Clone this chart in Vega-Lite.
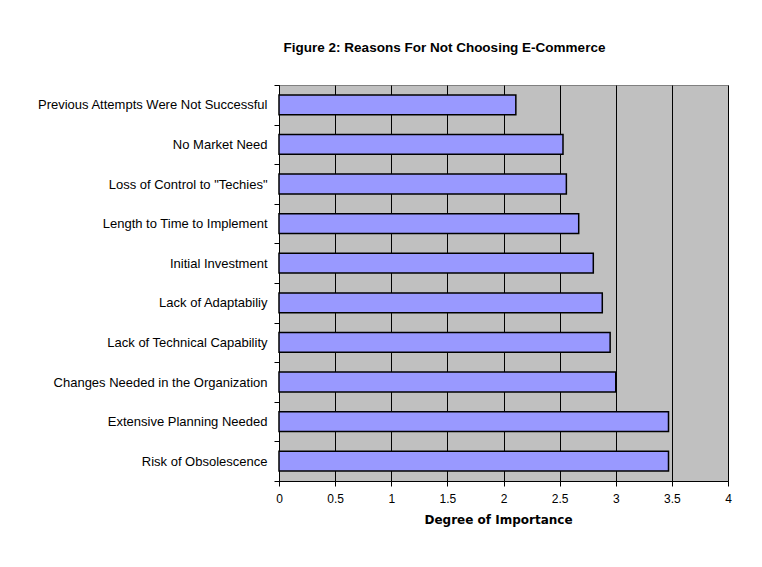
{
  "$schema": "https://vega.github.io/schema/vega-lite/v6.json",
  "width": 449,
  "height": 396,
  "autosize": {"type": "none"},
  "padding": {"left": 279, "top": 85, "right": 34, "bottom": 86},
  "background": "white",
  "title": {
    "text": "Figure 2: Reasons For Not Choosing E-Commerce",
    "font": "Liberation Sans",
    "fontSize": 13.5,
    "fontWeight": "bold",
    "color": "black",
    "anchor": "middle",
    "dx": -59,
    "offset": 25
  },
  "data": {
    "values": [
      {"reason": "Previous Attempts Were Not Successful", "importance": 2.11},
      {"reason": "No Market Need", "importance": 2.53},
      {"reason": "Loss of Control to \"Techies\"", "importance": 2.56},
      {"reason": "Length to Time to Implement", "importance": 2.67},
      {"reason": "Initial Investment", "importance": 2.8},
      {"reason": "Lack of Adaptabiliy", "importance": 2.88},
      {"reason": "Lack of Technical Capability", "importance": 2.95},
      {"reason": "Changes Needed in the Organization", "importance": 3.0},
      {"reason": "Extensive Planning Needed", "importance": 3.47},
      {"reason": "Risk of Obsolescence", "importance": 3.47}
    ]
  },
  "mark": {"type": "bar", "fill": "#9999FF", "stroke": "black", "strokeWidth": 1.5, "height": {"band": 0.5}},
  "encoding": {
    "y": {
      "field": "reason",
      "type": "nominal",
      "sort": null,
      "scale": {"paddingInner": 0, "paddingOuter": 0},
      "axis": {
        "title": null,
        "tickBand": "extent",
        "domainColor": "black",
        "tickColor": "black",
        "tickSize": 5,
        "labelFontSize": 13,
        "labelFont": "Liberation Sans",
        "labelColor": "black",
        "labelPadding": 7,
        "labelLimit": 300,
        "grid": false
      }
    },
    "x": {
      "field": "importance",
      "type": "quantitative",
      "scale": {"domain": [0, 4], "nice": false},
      "axis": {
        "values": [0, 0.5, 1, 1.5, 2, 2.5, 3, 3.5, 4],
        "grid": true,
        "gridColor": "black",
        "gridOpacity": 1,
        "domainColor": "black",
        "tickColor": "black",
        "tickSize": 5,
        "labelFontSize": 12,
        "labelFont": "Liberation Sans",
        "labelColor": "black",
        "labelPadding": 7,
        "labelFlush": false,
        "format": "~g",
        "title": "Degree of Importance",
        "titleFont": "DejaVu Sans",
        "titleFontSize": 12,
        "titleFontWeight": "bold",
        "titleColor": "black",
        "titlePadding": 10,
        "titleX": 219
      }
    }
  },
  "config": {"view": {"fill": "#C0C0C0", "stroke": "#808080"}}
}
